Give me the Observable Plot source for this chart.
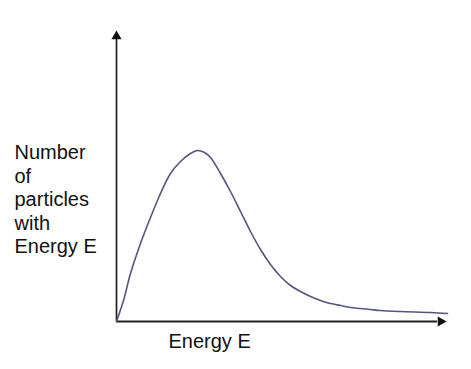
<!DOCTYPE html>
<html>
<head>
<meta charset="utf-8">
<script src="https://cdn.jsdelivr.net/npm/d3@7"></script>
<script src="https://cdn.jsdelivr.net/npm/@observablehq/plot@0.6"></script>
<style>
  html, body { margin: 0; padding: 0; background: #fff; }
</style>
</head>
<body>
<div id="chart"></div>
<script>
// Energy (arbitrary units) and number of particles (arbitrary units)
const energy = [0, 7, 14, 24, 34, 44, 54, 64, 74, 81, 88, 94, 104, 114, 124, 134, 144, 154, 164, 174, 184, 194, 204, 214, 224, 234, 244, 254, 264, 284, 314, 331];
const particles = [0, 21, 48, 78, 104, 128, 148, 160, 168, 171, 169, 164, 148, 130, 110, 90, 72, 57, 45, 36, 30, 25, 21, 18, 16, 14, 13, 12, 11, 10, 9, 8];

const xLabel = ["Energy E"];
const yLabel = ["Number\nof\nparticles\nwith\nEnergy E"];

const xMax = 331;   // end of x axis
const yMax = 291;   // end of y axis

const data = energy.map((e, i) => ({E: e, N: particles[i]}));

const font = "'Liberation Sans', Arial, Helvetica, sans-serif";

const chart = Plot.plot({
  width: 471,
  height: 369,
  marginLeft: 116,
  marginRight: 24,
  marginTop: 30,
  marginBottom: 48,
  x: {domain: [0, xMax], axis: null},
  y: {domain: [0, yMax], axis: null},
  style: {fontFamily: font, background: "#fff"},
  marks: [
    // axes
    Plot.ruleX([0], {y1: 0, y2: yMax - 8, stroke: "#222", strokeWidth: 1.7}),
    Plot.ruleY([0], {x1: 0, x2: xMax - 10, stroke: "#222", strokeWidth: 2}),
    // arrow heads
    Plot.dot([{x: 0, y: yMax}], {x: "x", y: "y", symbol: "triangle", r: 3.8, fill: "#111", stroke: null, dy: 5.8}),
    Plot.dot([{x: xMax - 1, y: 0}], {x: "x", y: "y", symbol: "triangle", r: 3.8, fill: "#111", stroke: null, rotate: 90, dx: -5.8}),
    // distribution curve
    Plot.line(data, {x: "E", y: "N", curve: "catmull-rom", stroke: "#55557e", strokeWidth: 1.6}),
    // labels
    Plot.text(xLabel, {text: d => d, frameAnchor: "bottom-left", textAnchor: "start", lineAnchor: "top", dx: 52, dy: 12, fontSize: 20, fill: "#111"}),
    Plot.text(yLabel, {text: d => d, frameAnchor: "top-left", textAnchor: "start", lineAnchor: "top", lineHeight: 1.175, dx: -102, dy: 112, fontSize: 20, fill: "#111"})
  ]
});

document.getElementById("chart").appendChild(chart);
</script>
</body>
</html>
